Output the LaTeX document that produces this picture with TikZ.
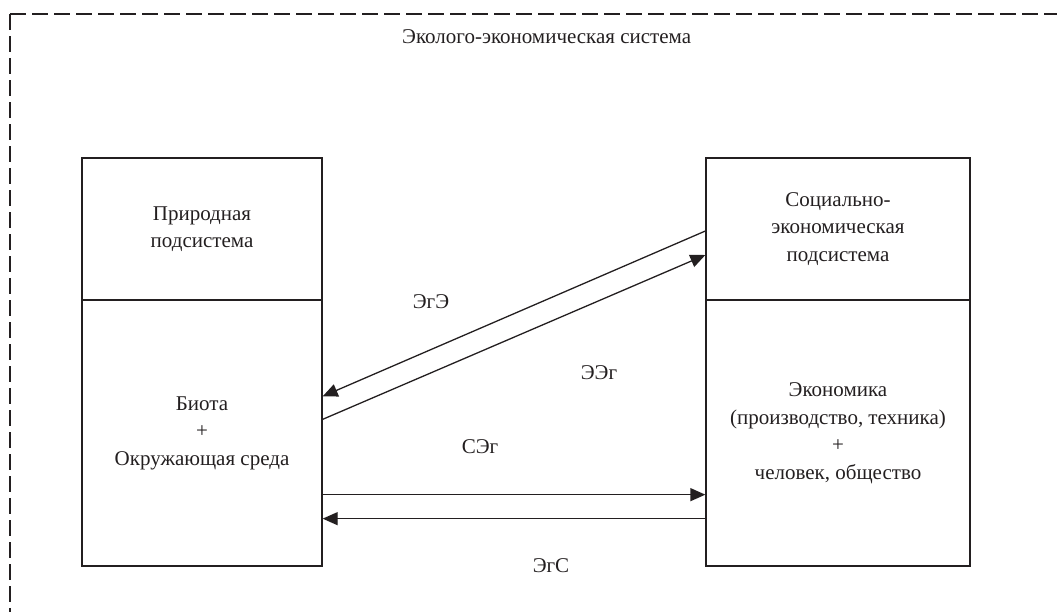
\documentclass[tikz,border=0pt]{standalone}
\usepackage{fontspec}
\setmainfont{Liberation Serif}
\usetikzlibrary{arrows.meta,positioning}
\definecolor{ink}{RGB}{35,31,32}

\begin{document}
\begin{tikzpicture}[x=1pt, y=-1pt,
    block/.style={draw=ink, line width=1.3pt, rectangle, align=center,
      inner sep=0pt, text=ink, font=\fontsize{21}{27.5}\selectfont},
    flow/.style={-{Triangle[length=15pt,width=13pt]}, ink, line width=1.3pt},
    lbl/.style={text=ink, inner sep=0pt, font=\fontsize{21}{27.5}\selectfont}]
    \useasboundingbox (0,0) rectangle (1057,611);
    % outer system border (runs off the page)
    \begin{scope}
      \clip (0,0) rectangle (1057,611);
      \draw[ink, line width=1.5pt, dash pattern=on 16pt off 6pt] (10,14) -- (1090,14);
      \draw[ink, line width=1.5pt, dash pattern=on 16pt off 6pt] (10,14) -- (10,650);
    \end{scope}
    \node[lbl, anchor=base west] (title) at (402,43) {Эколого-экономическая система};
    % subsystems
    \node[block, minimum width=240pt, minimum height=142pt] (nat) at (202,229)
      {Природная\\подсистема};
    \node[block, minimum width=240pt, minimum height=266pt] (bio) at (202,433)
      {Биота\\+\\Окружающая среда};
    \node[block, minimum width=264pt, minimum height=142pt] (soc) at (838,229)
      {Социально-\\экономическая\\подсистема};
    \node[block, minimum width=264pt, minimum height=266pt] (eco) at (838,433)
      {Экономика\\(производство, техника)\\+\\человек, общество};
    % exchange flows
    \draw[flow] ([yshift=-2pt]soc.west) -- ([yshift=-97pt]bio.north east);
    \draw[flow] ([yshift=-120pt]bio.north east) -- ([yshift=-26pt]soc.west);
    \draw[flow] ([yshift=72pt]bio.south east) -- ([yshift=72pt]eco.south west);
    \draw[flow] ([yshift=48pt]eco.south west) -- ([yshift=48pt]bio.south east);
    % flow labels
    \node[lbl] (ege) at (431,302) {ЭгЭ};
    \node[lbl] (eeg) at (599,373) {ЭЭг};
    \node[lbl] (seg) at (480,447) {СЭг};
    \node[lbl] (egs) at (551,566) {ЭгС};
\end{tikzpicture}
\end{document}
